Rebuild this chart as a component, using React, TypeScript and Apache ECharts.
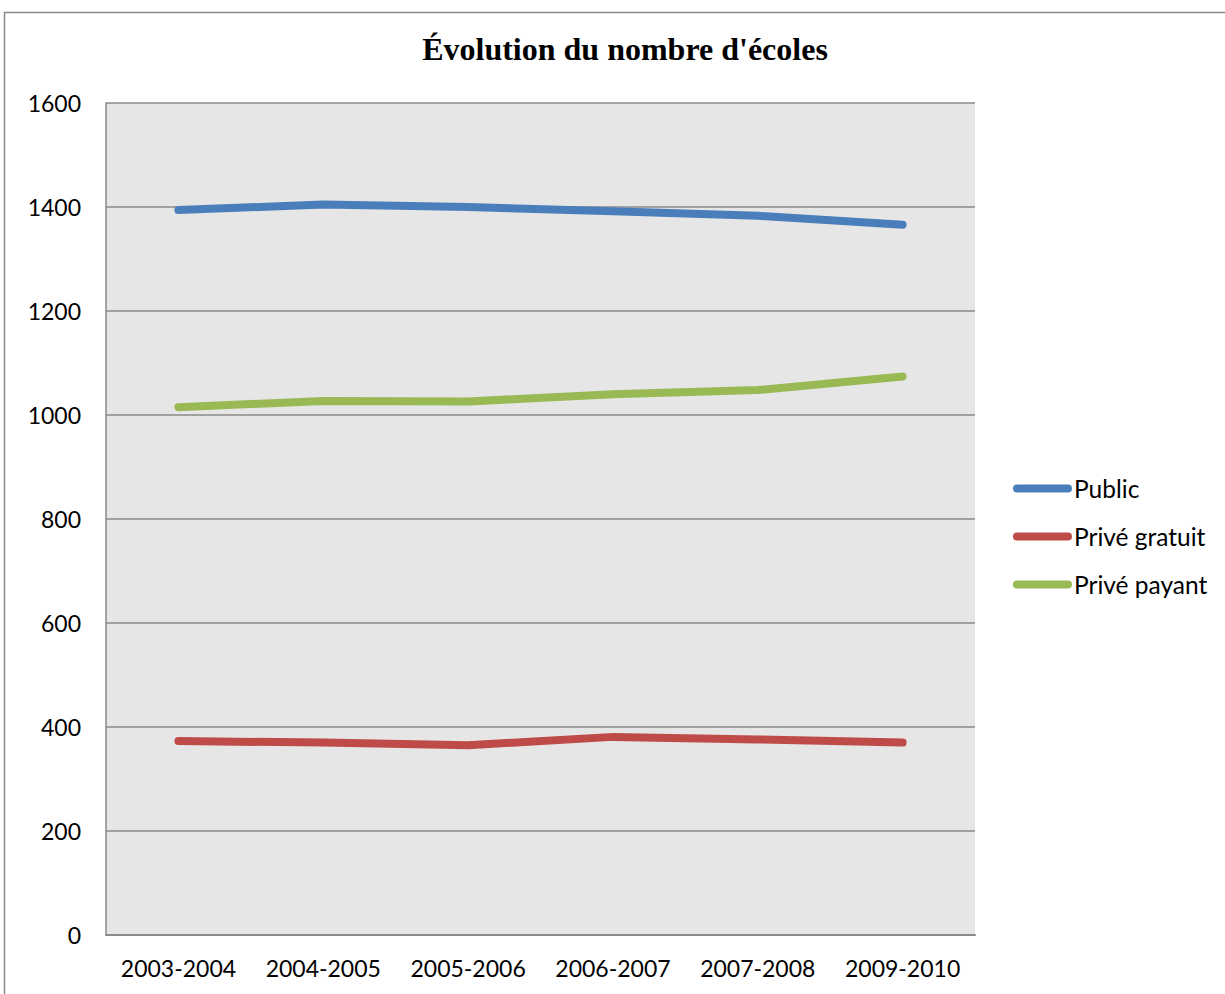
import React, { useEffect, useRef } from "react";
import * as echarts from "echarts";

const categories = ["2003-2004", "2004-2005", "2005-2006", "2006-2007", "2007-2008", "2009-2010"];
const publicValues = [1394, 1405, 1400, 1392, 1383, 1366];
const priveGratuit = [373, 370, 365, 381, 376, 370];
const privePayant = [1015, 1027, 1026, 1040, 1048, 1074];
const yTicks = { min: 0, max: 1600, interval: 200 };
const titleText = "Évolution du nombre d'écoles";

const FONT = "Lato, 'Liberation Sans', sans-serif";

export default function App() {
  const ref = useRef<HTMLDivElement>(null);
  useEffect(() => {
    if (!ref.current) return;
    const chart = echarts.init(ref.current, null, { renderer: "svg" });
    const mk = (name: string, data: number[], color: string) => ({
      name,
      type: "line",
      data,
      symbol: "none",
      lineStyle: { width: 8, color, cap: "round", join: "round" },
      itemStyle: { color },
    });
    chart.setOption({
      animation: false,
      backgroundColor: "#ffffff",
      title: {
        text: titleText,
        left: 620,
        top: 28,
        textAlign: "center",
        textStyle: { fontFamily: "'Liberation Serif', serif", fontWeight: "bold", fontSize: 32, color: "#000" },
      },
      graphic: [
        {
          type: "rect",
          shape: { x: 4.5, y: 12.5, width: 1300, height: 1100 },
          style: { fill: "none", stroke: "#8a8a8a", lineWidth: 1.5 },
          silent: true,
        },
      ],
      legend: {
        orient: "vertical",
        left: 1008,
        top: 471,
        itemWidth: 59,
        itemHeight: 8,
        itemGap: 23,
        icon: "path://M4,0 H55 A4,4 0 0 1 55,8 H4 A4,4 0 0 1 4,0 Z",
        textStyle: { fontFamily: FONT, fontSize: 24.5, color: "#000", lineHeight: 24, padding: [0, 0, 0, -3] },
        data: ["Public", "Privé gratuit", "Privé payant"],
      },
      grid: {
        left: 106,
        right: 250,
        top: 103,
        bottom: 59,
        show: true,
        backgroundColor: "#e6e6e6",
        borderWidth: 0,
      },
      xAxis: {
        type: "category",
        data: categories,
        boundaryGap: true,
        axisLine: { show: true, lineStyle: { color: "#8a8a8a", width: 2 } },
        axisTick: { show: false },
        axisLabel: { fontFamily: FONT, fontSize: 23, color: "#000", margin: 21, interval: 0 },
        splitLine: { show: false },
      },
      yAxis: {
        type: "value",
        min: yTicks.min,
        max: yTicks.max,
        interval: yTicks.interval,
        axisLine: { show: true, lineStyle: { color: "#8a8a8a", width: 1.5 } },
        axisTick: { show: false },
        axisLabel: { fontFamily: FONT, fontSize: 23, color: "#000", margin: 25, formatter: (v: number) => String(v) },
        splitLine: { show: true, lineStyle: { color: "#8a8a8a", width: 1.5 } },
      },
      series: [
        mk("Public", publicValues, "#4a7ebb"),
        mk("Privé gratuit", priveGratuit, "#be4b48"),
        mk("Privé payant", privePayant, "#98b954"),
      ],
    });
    return () => chart.dispose();
  }, []);
  return (
    <div
      ref={ref}
      style={{ position: "absolute", left: 0, top: 0, width: 1225, height: 994 }}
    />
  );
}
